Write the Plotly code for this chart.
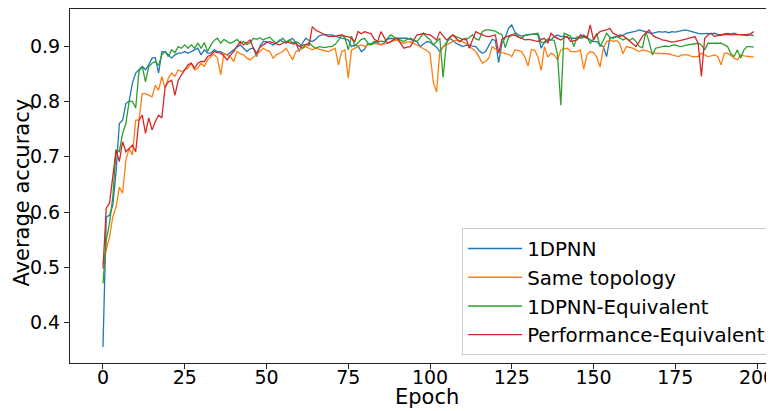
import plotly.graph_objects as go

epochs = list(range(200))

series_names = ["1DPNN", "Same topology", "1DPNN-Equivalent", "Performance-Equivalent"]
series_colors = ["#1f77b4", "#ff7f0e", "#2ca02c", "#d62728"]

acc_1dpnn = [
    0.356, 0.591, 0.594, 0.612, 0.673, 0.760, 0.766, 0.796, 0.800, 0.833,
    0.851, 0.857, 0.863, 0.857, 0.866, 0.878, 0.879, 0.851, 0.890, 0.890,
    0.884, 0.878, 0.884, 0.887, 0.887, 0.890, 0.887, 0.890, 0.892, 0.896,
    0.884, 0.893, 0.887, 0.887, 0.893, 0.890, 0.890, 0.886, 0.884, 0.888,
    0.893, 0.898, 0.902, 0.896, 0.890, 0.895, 0.896, 0.881, 0.900, 0.908,
    0.908, 0.905, 0.902, 0.905, 0.911, 0.908, 0.905, 0.910, 0.914, 0.906,
    0.890, 0.905, 0.914, 0.910, 0.908, 0.912, 0.918, 0.920, 0.920, 0.919,
    0.920, 0.918, 0.916, 0.914, 0.912, 0.911, 0.899, 0.902, 0.900, 0.890,
    0.894, 0.905, 0.904, 0.908, 0.906, 0.902, 0.906, 0.912, 0.914, 0.913,
    0.914, 0.914, 0.913, 0.914, 0.912, 0.910, 0.908, 0.899, 0.903, 0.908,
    0.907, 0.902, 0.898, 0.890, 0.898, 0.905, 0.914, 0.910, 0.905, 0.902,
    0.899, 0.901, 0.902, 0.900, 0.899, 0.892, 0.887, 0.890, 0.900, 0.912,
    0.910, 0.870, 0.905, 0.915, 0.932, 0.938, 0.925, 0.920, 0.918, 0.920,
    0.921, 0.921, 0.922, 0.920, 0.896, 0.908, 0.910, 0.911, 0.917, 0.920,
    0.917, 0.918, 0.916, 0.914, 0.914, 0.914, 0.916, 0.920, 0.916, 0.911,
    0.908, 0.908, 0.902, 0.899, 0.881, 0.914, 0.916, 0.917, 0.920, 0.919,
    0.923, 0.924, 0.926, 0.927, 0.929, 0.927, 0.926, 0.924, 0.923, 0.925,
    0.926, 0.925, 0.926, 0.924, 0.926, 0.925, 0.926, 0.927, 0.929, 0.928,
    0.926, 0.925, 0.923, 0.922, 0.923, 0.923, 0.922, 0.923, 0.921, 0.920,
    0.922, 0.923, 0.922, 0.923, 0.921, 0.920, 0.920, 0.919, 0.920, 0.919,
]

acc_same_topology = [
    0.507, 0.531, 0.555, 0.591, 0.609, 0.645, 0.634, 0.694, 0.715, 0.703,
    0.766, 0.766, 0.814, 0.814, 0.811, 0.808, 0.829, 0.820, 0.845, 0.824,
    0.842, 0.851, 0.845, 0.857, 0.854, 0.857, 0.860, 0.869, 0.857, 0.860,
    0.869, 0.863, 0.875, 0.881, 0.885, 0.878, 0.848, 0.887, 0.884, 0.880,
    0.872, 0.890, 0.886, 0.884, 0.878, 0.875, 0.880, 0.884, 0.890, 0.896,
    0.892, 0.890, 0.878, 0.884, 0.887, 0.890, 0.896, 0.885, 0.875, 0.890,
    0.893, 0.896, 0.899, 0.896, 0.893, 0.896, 0.894, 0.893, 0.891, 0.890,
    0.893, 0.896, 0.866, 0.890, 0.893, 0.842, 0.893, 0.896, 0.900, 0.902,
    0.900, 0.902, 0.903, 0.905, 0.904, 0.902, 0.904, 0.905, 0.908, 0.910,
    0.911, 0.907, 0.905, 0.907, 0.908, 0.905, 0.902, 0.899, 0.896, 0.892,
    0.887, 0.835, 0.817, 0.890, 0.899, 0.902, 0.905, 0.908, 0.911, 0.909,
    0.908, 0.904, 0.899, 0.895, 0.890, 0.880, 0.869, 0.872, 0.878, 0.899,
    0.895, 0.890, 0.888, 0.887, 0.885, 0.881, 0.893, 0.892, 0.890, 0.880,
    0.864, 0.893, 0.893, 0.880, 0.856, 0.899, 0.880, 0.887, 0.884, 0.875,
    0.893, 0.895, 0.896, 0.890, 0.890, 0.890, 0.893, 0.858, 0.884, 0.890,
    0.888, 0.880, 0.862, 0.896, 0.908, 0.911, 0.908, 0.910, 0.905, 0.886,
    0.899, 0.898, 0.896, 0.893, 0.890, 0.893, 0.892, 0.890, 0.887, 0.887,
    0.887, 0.887, 0.887, 0.886, 0.884, 0.882, 0.881, 0.884, 0.884, 0.884,
    0.881, 0.881, 0.881, 0.887, 0.884, 0.881, 0.882, 0.884, 0.881, 0.866,
    0.887, 0.887, 0.883, 0.878, 0.875, 0.884, 0.882, 0.881, 0.881, 0.880,
]

acc_1dpnn_equivalent = [
    0.471, 0.549, 0.580, 0.627, 0.712, 0.709, 0.742, 0.760, 0.800, 0.800,
    0.788, 0.854, 0.863, 0.835, 0.863, 0.869, 0.872, 0.865, 0.884, 0.890,
    0.881, 0.893, 0.888, 0.899, 0.896, 0.902, 0.896, 0.902, 0.896, 0.905,
    0.896, 0.906, 0.890, 0.902, 0.910, 0.914, 0.905, 0.912, 0.908, 0.905,
    0.908, 0.912, 0.905, 0.908, 0.903, 0.906, 0.914, 0.912, 0.915, 0.911,
    0.914, 0.916, 0.910, 0.905, 0.909, 0.914, 0.907, 0.911, 0.906, 0.908,
    0.905, 0.896, 0.902, 0.906, 0.900, 0.896, 0.899, 0.898, 0.897, 0.899,
    0.899, 0.903, 0.910, 0.920, 0.915, 0.893, 0.918, 0.900, 0.906, 0.912,
    0.914, 0.905, 0.902, 0.906, 0.908, 0.909, 0.908, 0.915, 0.920, 0.916,
    0.913, 0.910, 0.908, 0.912, 0.914, 0.911, 0.908, 0.915, 0.923, 0.916,
    0.912, 0.902, 0.908, 0.914, 0.843, 0.905, 0.916, 0.920, 0.917, 0.914,
    0.912, 0.911, 0.915, 0.920, 0.913, 0.911, 0.926, 0.929, 0.929, 0.928,
    0.927, 0.923, 0.921, 0.897, 0.915, 0.920, 0.923, 0.916, 0.914, 0.919,
    0.920, 0.921, 0.922, 0.923, 0.907, 0.905, 0.913, 0.912, 0.910, 0.884,
    0.793, 0.923, 0.920, 0.918, 0.899, 0.917, 0.914, 0.915, 0.917, 0.905,
    0.912, 0.923, 0.899, 0.910, 0.923, 0.916, 0.914, 0.917, 0.915, 0.911,
    0.914, 0.910, 0.914, 0.908, 0.899, 0.897, 0.926, 0.908, 0.884, 0.896,
    0.898, 0.899, 0.900, 0.899, 0.901, 0.902, 0.900, 0.899, 0.901, 0.902,
    0.904, 0.905, 0.905, 0.902, 0.893, 0.905, 0.905, 0.904, 0.905, 0.905,
    0.902, 0.899, 0.886, 0.881, 0.893, 0.878, 0.893, 0.899, 0.899, 0.898,
]

acc_performance_equivalent = [
    0.498, 0.607, 0.616, 0.670, 0.712, 0.691, 0.727, 0.709, 0.715, 0.721,
    0.709, 0.766, 0.775, 0.742, 0.770, 0.748, 0.763, 0.775, 0.770, 0.826,
    0.835, 0.838, 0.811, 0.838, 0.848, 0.857, 0.866, 0.869, 0.860, 0.869,
    0.872, 0.872, 0.881, 0.884, 0.890, 0.888, 0.887, 0.882, 0.875, 0.884,
    0.890, 0.900, 0.908, 0.902, 0.906, 0.911, 0.896, 0.887, 0.898, 0.902,
    0.906, 0.908, 0.906, 0.904, 0.902, 0.905, 0.908, 0.906, 0.904, 0.905,
    0.899, 0.901, 0.903, 0.901, 0.935, 0.929, 0.926, 0.923, 0.920, 0.917,
    0.918, 0.917, 0.919, 0.920, 0.918, 0.917, 0.914, 0.908, 0.926, 0.922,
    0.926, 0.924, 0.922, 0.912, 0.908, 0.926, 0.914, 0.905, 0.908, 0.912,
    0.914, 0.905, 0.896, 0.898, 0.899, 0.910, 0.920, 0.921, 0.923, 0.921,
    0.920, 0.916, 0.911, 0.926, 0.918, 0.911, 0.915, 0.920, 0.914, 0.908,
    0.912, 0.914, 0.896, 0.910, 0.926, 0.923, 0.920, 0.918, 0.917, 0.919,
    0.920, 0.887, 0.912, 0.916, 0.918, 0.920, 0.919, 0.917, 0.914, 0.911,
    0.912, 0.911, 0.910, 0.908, 0.912, 0.914, 0.905, 0.923, 0.917, 0.914,
    0.911, 0.915, 0.917, 0.908, 0.909, 0.911, 0.920, 0.917, 0.914, 0.938,
    0.911, 0.920, 0.926, 0.928, 0.929, 0.932, 0.923, 0.920, 0.917, 0.919,
    0.914, 0.908, 0.903, 0.899, 0.908, 0.918, 0.923, 0.929, 0.920, 0.916,
    0.914, 0.911, 0.910, 0.908, 0.907, 0.908, 0.909, 0.911, 0.912, 0.914,
    0.915, 0.917, 0.905, 0.845, 0.914, 0.920, 0.923, 0.917, 0.919, 0.920,
    0.920, 0.921, 0.920, 0.920, 0.921, 0.920, 0.920, 0.921, 0.922, 0.926,
]

x_ticks = [0, 25, 50, 75, 100, 125, 150, 175, 200]
y_ticks = [0.4, 0.5, 0.6, 0.7, 0.8, 0.9]

all_series = [acc_1dpnn, acc_same_topology, acc_1dpnn_equivalent, acc_performance_equivalent]

FONT = "DejaVu Sans"

fig = go.Figure()
for i, (name, color, vals) in enumerate(zip(series_names, series_colors, all_series)):
    fig.add_trace(go.Scatter(
        x=epochs, y=vals, mode="lines", name=name,
        line=dict(color=color, width=1.3),
    ))

# The page body has an 8px default margin, so the figure is 8px smaller
fig.update_layout(
    width=766, height=403,
    margin=dict(l=62, r=0, t=1, b=48, autoexpand=False),
    paper_bgcolor="white", plot_bgcolor="white",
    font=dict(family=FONT, size=19, color="black"),
    showlegend=True,
    legend=dict(
        x=0.557, y=0.381, xanchor="left", yanchor="top",
        bgcolor="rgba(255,255,255,0.8)", bordercolor="#cccccc", borderwidth=1,
        font=dict(family=FONT, size=19.8, color="black"),
        itemwidth=54,
    ),
    xaxis=dict(
        range=[-10.09, 205.2], tickvals=x_ticks, ticktext=[str(v) for v in x_ticks],
        showgrid=False, zeroline=False, showline=True, linecolor="#222", linewidth=1,
        mirror=True, ticks="outside", ticklen=5, tickcolor="#222",
        tickfont=dict(family=FONT, size=19), automargin=False,
        ticklabeloverflow="allow", ticklabelstandoff=-8,
    ),
    yaxis=dict(
        range=[0.3271, 0.9669], tickvals=y_ticks, ticktext=[f"{v:.1f}" for v in y_ticks],
        showgrid=False, zeroline=False, showline=True, linecolor="#222", linewidth=1,
        mirror=False, ticks="outside", ticklen=5, tickcolor="#222",
        tickfont=dict(family=FONT, size=19), automargin=False,
    ),
    annotations=[
        dict(text="Epoch", xref="paper", yref="paper", x=0.507, y=-0.0565,
             xanchor="center", yanchor="top", showarrow=False,
             font=dict(family=FONT, size=21, color="black")),
        dict(text="Average accuracy", xref="paper", yref="paper", x=-0.0675, y=0.483,
             xanchor="center", yanchor="middle", showarrow=False, textangle=-90,
             font=dict(family=FONT, size=21, color="black")),
    ],
)

fig.write_html("out.html")
